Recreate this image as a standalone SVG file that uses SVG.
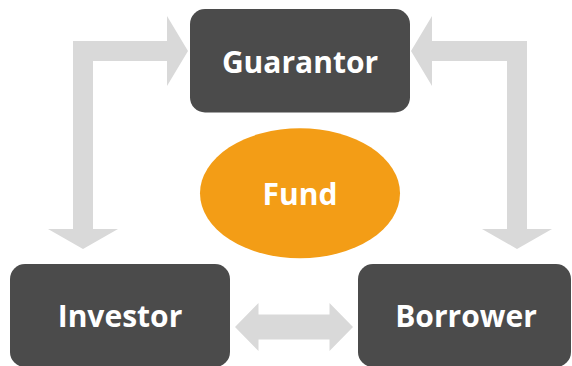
<svg xmlns="http://www.w3.org/2000/svg" width="572" height="366" viewBox="0 0 572 366">
<style>
.box{fill:#4b4b4b;}
.lbl{font-family:"Open Sans","Liberation Sans",sans-serif;font-weight:bold;font-size:30px;fill:#ffffff;text-anchor:middle;}
.arr{fill:#d9d9d9;}
</style>
<rect width="572" height="366" fill="#ffffff"/>
<g id="connectors">
<path class="arr" d="M188,51 L167,16 L167,41 L73,41 L73,229 L48,229 L83,249 L118,229 L93,229 L93,61 L167,61 L167,86 Z"/>
<path class="arr" d="M411,51 L432,16 L432,41 L527,41 L527,229 L552,229 L517,249 L482,229 L507,229 L507,61 L432,61 L432,86 Z"/>
<path class="arr" d="M235,327 L258.5,303 L258.5,314.5 L329.5,314.5 L329.5,303 L353,327 L329.5,351 L329.5,339.5 L258.5,339.5 L258.5,351 Z"/>
</g>
<g id="guarantor">
<rect class="box" x="190" y="9" width="220" height="103.5" rx="15"/>
<text class="lbl" x="300" y="73">Guarantor</text>
</g>
<g id="fund">
<ellipse cx="300" cy="193.3" rx="100" ry="65" fill="#f39d16"/>
<text class="lbl" x="300" y="205">Fund</text>
</g>
<g id="investor">
<rect class="box" x="10" y="264" width="220" height="103" rx="15"/>
<text class="lbl" x="120" y="327">Investor</text>
</g>
<g id="borrower">
<rect class="box" x="358" y="264" width="213" height="103" rx="15"/>
<text class="lbl" x="466" y="327">Borrower</text>
</g>
</svg>
